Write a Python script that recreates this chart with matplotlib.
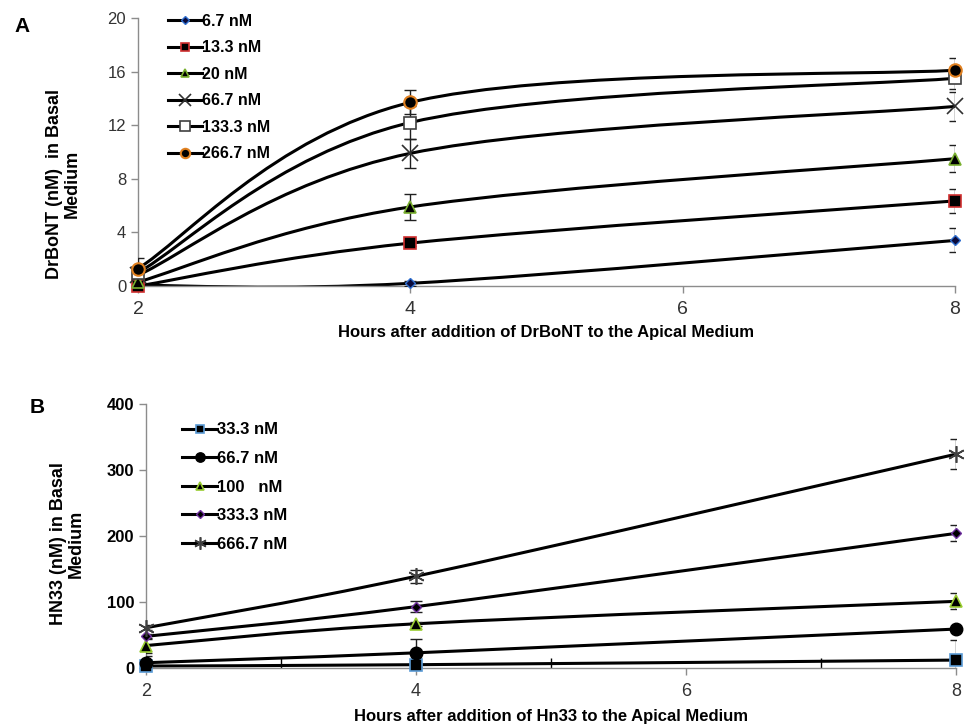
import matplotlib
matplotlib.use("Agg")
import matplotlib.pyplot as plt
from matplotlib.path import Path
from matplotlib.patches import PathPatch
from matplotlib.lines import Line2D

plt.rcParams['font.family'] = ['Liberation Sans', 'DejaVu Sans']

hours = [2, 4, 8]

# Panel A: DrBoNT in basal medium (nM)
a_labels = ['6.7 nM', '13.3 nM', '20 nM', '66.7 nM', '133.3 nM', '266.7 nM']
a_values = [
    [0.05, 0.2, 3.4],
    [0.0, 3.2, 6.35],
    [0.3, 5.9, 9.5],
    [0.8, 9.9, 13.4],
    [1.0, 12.2, 15.5],
    [1.3, 13.7, 16.1],
]
a_errors = [
    [0.1, 0.2, 0.9],
    [0.1, 0.2, 0.9],
    [0.3, 1.0, 1.0],
    [0.4, 1.1, 1.1],
    [0.5, 1.2, 0.8],
    [0.8, 0.9, 0.9],
]

# Panel B: HN33 in basal medium (nM)
b_labels = ['33.3 nM', '66.7 nM', '100   nM', '333.3 nM', '666.7 nM']
b_values = [
    [3, 5, 12],
    [8, 23, 59],
    [34, 67, 101],
    [48, 93, 204],
    [61, 139, 324],
]
b_errors = [
    [2, 3, 31],
    [10, 21, 2],
    [12, 3, 12],
    [4, 8, 12],
    [4, 10, 23],
]

a_styles = [
    dict(marker='D', ms=5, mfc='#0a0a3a', mec='#2f6fd0', mew=1),
    dict(marker='s', ms=8, mfc='black', mec='#d03030', mew=1.2),
    dict(marker='^', ms=8, mfc='black', mec='#7ab030', mew=1.2),
    dict(marker='x', ms=12, mfc='none', mec='#303030', mew=1.2),
    dict(marker='s', ms=9, mfc='white', mec='#404040', mew=1.2),
    dict(marker='o', ms=9, mfc='black', mec='#e08020', mew=1.5),
]
b_styles = [
    dict(marker='s', ms=8, mfc='black', mec='#5b9bd5', mew=1.2),
    dict(marker='o', ms=9, mfc='black', mec='black', mew=1),
    dict(marker='^', ms=8, mfc='black', mec='#9acd32', mew=1.2),
    dict(marker='D', ms=5, mfc='black', mec='#7030a0', mew=1),
    dict(marker=(6, 2, 0), ms=12, mfc='none', mec='#404040', mew=1.2),
]


def smooth_path(x, y):
    # Excel-style smoothed line: cubic Bezier through the points
    pts = list(zip(x, y))
    n = len(pts)
    verts = [pts[0]]
    codes = [Path.MOVETO]
    for i in range(n - 1):
        p0 = pts[i - 1] if i > 0 else pts[i]
        p1 = pts[i]
        p2 = pts[i + 1]
        p3 = pts[i + 2] if i + 2 < n else pts[i + 1]
        c1 = (p1[0] + (p2[0] - p0[0]) / 6, p1[1] + (p2[1] - p0[1]) / 6)
        c2 = (p2[0] - (p3[0] - p1[0]) / 6, p2[1] - (p3[1] - p1[1]) / 6)
        verts += [c1, c2, p2]
        codes += [Path.CURVE4] * 3
    return Path(verts, codes)


def draw_panel(ax, values, errors, styles):
    handles = []
    for vals, errs, st in zip(values, errors, styles):
        ax.add_patch(PathPatch(smooth_path(hours, vals), fill=False,
                               lw=2.2, ec='black', zorder=2))
        ax.errorbar(hours, vals, yerr=errs, fmt='none', ecolor='#202020',
                    elinewidth=1, capsize=4, capthick=1, zorder=3)
        ax.plot(hours, vals, ls='none', zorder=4, clip_on=False, **st)
        handles.append(Line2D([], [], color='black', lw=2.2, **st))
    return handles


def style_axes(ax):
    for s in ['top', 'right']:
        ax.spines[s].set_visible(False)
    for s in ['left', 'bottom']:
        ax.spines[s].set_color('#8c8c8c')
        ax.spines[s].set_linewidth(1)
    ax.tick_params(direction='out', length=5, color='#8c8c8c', width=1)
    ax.set_xlim(2, 8)
    ax.set_xticks([2, 4, 6, 8])


fig = plt.figure(figsize=(9.66, 7.28), dpi=100)

# ---- panel A
ax1 = fig.add_axes([138 / 966, 1 - 286 / 728, 817 / 966, 268 / 728])
style_axes(ax1)
ax1.set_ylim(0, 20)
ax1.set_yticks([0, 4, 8, 12, 16, 20])
h1 = draw_panel(ax1, a_values, a_errors, a_styles)
ax1.tick_params(axis='y', labelsize=12, labelcolor='#333333')
ax1.tick_params(axis='x', labelsize=14, labelcolor='#333333', pad=6)
ax1.set_xlabel('Hours after addition of DrBoNT to the Apical Medium',
               fontsize=12, fontweight='bold', labelpad=5)
ax1.set_ylabel('DrBoNT (nM)  in Basal\nMedium', fontsize=13,
               fontweight='bold', linespacing=1.1)
ax1.yaxis.set_label_coords(-0.07, 0.38)
ax1.legend(h1, a_labels, loc='upper left', bbox_to_anchor=(160 / 966, 1 - 6 / 728),
           bbox_transform=fig.transFigure, frameon=False, handlelength=2.1,
           handletextpad=0.0, labelspacing=0.72, borderpad=0, markerscale=0.75,
           prop={'weight': 'bold', 'size': 11.5})
fig.text(14 / 966, 1 - 32 / 728, 'A', fontsize=15, fontweight='bold')

# ---- panel B
ax2 = fig.add_axes([146 / 966, 1 - 668 / 728, 810 / 966, 264 / 728])
style_axes(ax2)
ax2.set_ylim(0, 400)
ax2.set_yticks([0, 100, 200, 300, 400])
h2 = draw_panel(ax2, b_values, b_errors, b_styles)
ax2.set_xticks([3, 5, 7], minor=True)
ax2.tick_params(axis='x', which='minor', direction='in', length=7,
                color='black', width=1)
ax2.tick_params(axis='y', labelsize=12, labelcolor='black')
for t in ax2.get_yticklabels():
    t.set_fontweight('bold')
ax2.tick_params(axis='x', which='major', labelsize=13, labelcolor='#333333', pad=6)
ax2.set_xlabel('Hours after addition of Hn33 to the Apical Medium',
               fontsize=12, fontweight='bold', labelpad=6)
ax2.set_ylabel('HN33 (nM) in Basal\nMedium', fontsize=13,
               fontweight='bold', linespacing=1.1)
ax2.yaxis.set_label_coords(-0.075, 0.47)
ax2.legend(h2, b_labels, loc='upper left', bbox_to_anchor=(174 / 966, 1 - 414 / 728),
           bbox_transform=fig.transFigure, frameon=False, handlelength=2.1,
           handletextpad=0.0, labelspacing=0.82, borderpad=0, markerscale=0.75,
           prop={'weight': 'bold', 'size': 12})
fig.text(30 / 966, 1 - 413 / 728, 'B', fontsize=15, fontweight='bold')

fig.savefig('out.png', dpi=100)
